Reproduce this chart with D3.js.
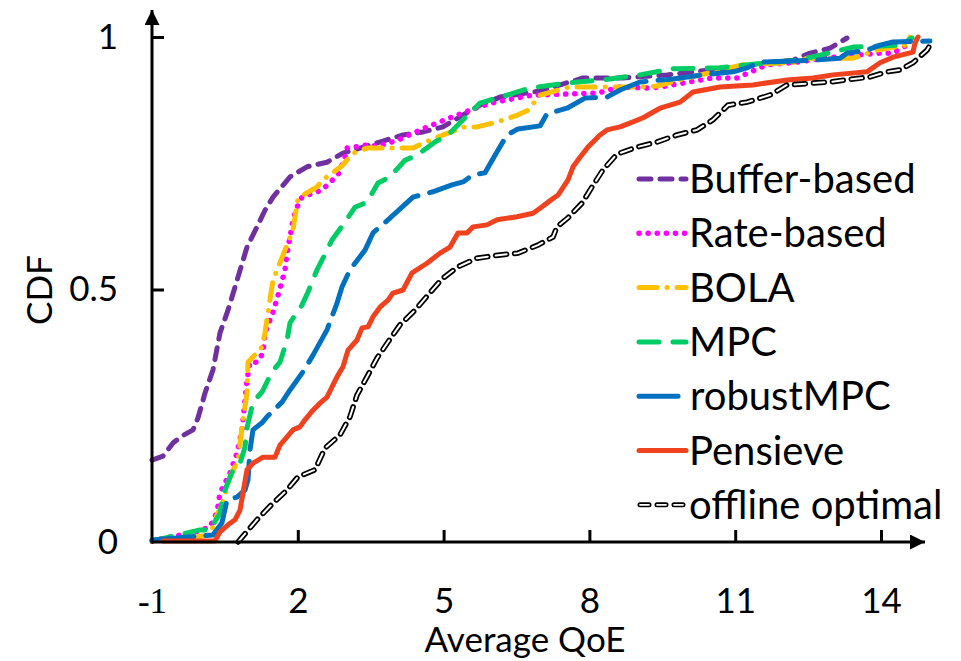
<!DOCTYPE html>
<html>
<head>
<meta charset="utf-8">
<script src="https://cdn.jsdelivr.net/npm/d3@7"></script>
<style>
  body { margin: 0; background: #fff; }
  svg { display: block; font-family: Lato, "Open Sans", sans-serif; }
</style>
</head>
<body>
<script>

var width = 961,
    height = 661;

// series names and styles
var names = ["Buffer-based", "Rate-based", "BOLA", "MPC", "robustMPC", "Pensieve", "offline optimal"];
var colors = ["#7030A0", "#FF00FF", "#FFC000", "#00CC66", "#0070C0", "#F0421E", "#000000"];

// CDF curves as [QoE, CDF]
var bufferBased = [[-1,0.162],[-0.774,0.170],[-0.568,0.196],[-0.383,0.210],[-0.156,0.222],[-0.053,0.246],[0.091,0.295],[0.255,0.341],[0.399,0.414],[0.564,0.459],[0.708,0.505],[0.955,0.584],[1.160,0.624],[1.325,0.657],[1.490,0.683],[1.840,0.723],[2.189,0.743],[2.601,0.752],[2.930,0.770],[3.280,0.780],[3.753,0.794],[4.165,0.806],[4.576,0.812],[4.988,0.822],[5.337,0.842],[5.749,0.865],[6.160,0.881],[6.984,0.893],[7.868,0.919],[8.691,0.919],[9.597,0.925],[10.893,0.939],[11.778,0.950],[12.189,0.954],[12.539,0.968],[12.951,0.978],[13.300,0.998]];
var rateBased = [[-1,0.002],[-0.630,0.010],[-0.156,0.018],[0.193,0.030],[0.337,0.059],[0.399,0.097],[0.605,0.137],[0.749,0.176],[0.852,0.222],[0.955,0.321],[1.016,0.356],[1.160,0.356],[1.284,0.374],[1.325,0.414],[1.490,0.455],[1.613,0.495],[1.737,0.539],[1.798,0.582],[1.901,0.638],[1.984,0.663],[2.086,0.683],[2.498,0.697],[2.827,0.727],[2.971,0.762],[3.012,0.780],[3.424,0.786],[3.650,0.784],[4.062,0.796],[4.617,0.820],[5.029,0.836],[5.646,0.859],[6.058,0.871],[6.840,0.885],[8.177,0.889],[8.630,0.901],[9.247,0.899],[9.453,0.901],[10.543,0.919],[11.037,0.919],[11.654,0.945],[12.189,0.949],[13.012,0.960],[13.979,0.968],[14.247,0.968],[14.535,0.984],[14.638,1.0]];
var bola = [[-1,0.002],[-0.218,0.008],[0.193,0.014],[0.337,0.053],[0.440,0.073],[0.605,0.129],[0.770,0.162],[0.872,0.242],[0.955,0.295],[0.975,0.356],[1.263,0.386],[1.325,0.414],[1.387,0.455],[1.490,0.519],[1.695,0.568],[1.901,0.618],[2.004,0.681],[2.395,0.703],[2.519,0.717],[2.909,0.745],[3.136,0.770],[3.424,0.780],[4.370,0.780],[4.576,0.790],[4.988,0.806],[5.440,0.822],[5.687,0.822],[6.119,0.832],[6.531,0.846],[6.737,0.855],[6.984,0.885],[7.601,0.901],[9.041,0.901],[9.391,0.903],[9.864,0.915],[11.160,0.945],[12.333,0.950],[12.477,0.958],[13.424,0.958],[13.918,0.974],[14.535,0.984],[14.597,1.0]];
var mpc = [[-1,0.002],[-0.630,0.010],[-0.012,0.024],[0.193,0.024],[0.399,0.057],[0.461,0.093],[0.667,0.143],[0.811,0.156],[0.914,0.188],[0.955,0.226],[1.078,0.277],[1.263,0.297],[1.469,0.337],[1.634,0.356],[1.778,0.400],[1.840,0.434],[2.086,0.469],[2.210,0.495],[2.395,0.539],[2.519,0.562],[2.704,0.598],[2.930,0.628],[3.177,0.663],[3.424,0.673],[3.650,0.711],[3.897,0.723],[4.206,0.756],[4.453,0.766],[4.823,0.792],[5.091,0.806],[5.440,0.840],[5.749,0.869],[6.305,0.885],[6.778,0.899],[7.539,0.909],[8.280,0.915],[9.041,0.925],[9.720,0.937],[10.687,0.939],[11.654,0.949],[12.272,0.954],[12.745,0.964],[13.424,0.980],[14.391,0.984],[14.638,0.998]];
var robustMpc = [[-1,0.004],[-0.486,0.008],[0.255,0.014],[0.440,0.038],[0.543,0.083],[0.749,0.089],[0.914,0.103],[0.975,0.123],[1.016,0.182],[1.078,0.222],[1.263,0.236],[1.366,0.248],[1.675,0.277],[1.840,0.301],[2.107,0.337],[2.313,0.370],[2.601,0.420],[2.807,0.473],[2.909,0.505],[3.074,0.539],[3.383,0.578],[3.547,0.612],[3.856,0.638],[4.144,0.663],[4.370,0.683],[4.761,0.693],[5.173,0.707],[5.399,0.713],[5.605,0.727],[5.852,0.731],[6.058,0.766],[6.305,0.806],[6.531,0.818],[6.984,0.824],[7.128,0.848],[7.539,0.859],[7.909,0.879],[8.362,0.881],[8.630,0.895],[9.041,0.911],[9.720,0.917],[10.337,0.925],[10.955,0.931],[11.243,0.939],[11.510,0.950],[12.601,0.954],[13.156,0.958],[13.300,0.968],[13.712,0.974],[13.979,0.984],[14.247,0.990],[15.008,0.992]];
var pensieve = [[-0.774,0.002],[0.296,0.002],[0.399,0.020],[0.564,0.034],[0.708,0.044],[0.811,0.063],[0.872,0.097],[0.955,0.143],[1.078,0.156],[1.284,0.168],[1.531,0.168],[1.634,0.192],[1.778,0.208],[1.901,0.222],[2.045,0.228],[2.148,0.242],[2.313,0.261],[2.457,0.275],[2.601,0.287],[2.704,0.307],[2.807,0.327],[2.930,0.347],[3.033,0.380],[3.218,0.400],[3.321,0.424],[3.444,0.426],[3.547,0.446],[3.691,0.465],[3.856,0.479],[3.959,0.493],[4.165,0.499],[4.350,0.533],[4.658,0.552],[4.926,0.572],[5.132,0.584],[5.296,0.612],[5.481,0.612],[5.605,0.624],[5.893,0.628],[6.099,0.638],[6.510,0.644],[6.840,0.651],[6.984,0.661],[7.148,0.673],[7.354,0.687],[7.560,0.717],[7.663,0.743],[7.807,0.762],[7.971,0.782],[8.218,0.806],[8.362,0.816],[8.630,0.822],[8.897,0.832],[9.103,0.840],[9.453,0.859],[9.864,0.871],[10.132,0.891],[10.687,0.901],[11.366,0.905],[12.066,0.915],[12.601,0.919],[13.012,0.925],[13.712,0.931],[13.979,0.949],[14.247,0.960],[14.658,0.970],[14.700,0.988],[14.761,1.0]];
var offlineOptimal = [[0.770,0.0],[1.160,0.044],[1.490,0.077],[1.778,0.103],[2.004,0.129],[2.354,0.143],[2.560,0.186],[2.868,0.212],[3.074,0.248],[3.218,0.291],[3.424,0.327],[3.630,0.364],[3.856,0.396],[4.103,0.430],[4.412,0.459],[4.679,0.489],[4.967,0.521],[5.296,0.545],[5.687,0.562],[6.119,0.568],[6.531,0.572],[6.942,0.588],[7.251,0.604],[7.333,0.624],[7.560,0.642],[7.848,0.671],[8.053,0.703],[8.280,0.737],[8.568,0.768],[8.979,0.782],[9.391,0.792],[9.802,0.806],[10.214,0.816],[10.543,0.836],[10.852,0.865],[11.243,0.871],[11.716,0.885],[12.066,0.905],[12.951,0.911],[13.774,0.921],[14.123,0.931],[14.391,0.935],[14.658,0.949],[14.947,0.974],[15.008,0.984]];

var xTicks = [-1, 2, 5, 8, 11, 14];
var yTicks = [0, 0.5, 1];
var yTickLabels = ["0", "0.5", "1"];

var seriesData = [bufferBased, rateBased, bola, mpc, robustMpc, pensieve, offlineOptimal];
var dashes = ["12,9", "0.1,9", "18,10,0.1,10", "20,14", "42,12", null, "11,8"];

var x = d3.scaleLinear().domain([-1, 14]).range([152, 881]);
var y = d3.scaleLinear().domain([0, 1]).range([542, 37]);

var svg = d3.select("body").append("svg")
    .attr("width", width)
    .attr("height", height);

var defs = svg.append("defs");
defs.append("marker")
    .attr("id", "arrow")
    .attr("viewBox", "0 0 10 10")
    .attr("refX", 10).attr("refY", 5)
    .attr("markerWidth", 5).attr("markerHeight", 5)
    .attr("markerUnits", "strokeWidth")
    .attr("orient", "auto")
  .append("path")
    .attr("d", "M0,0L10,5L0,10z")
    .attr("fill", "#000");

var line = d3.line()
    .x(function(d) { return x(d[0]); })
    .y(function(d) { return y(d[1]); });

// curves
var curves = svg.append("g");
seriesData.forEach(function(data, i) {
    if (i == 6) {
        // outlined dashes: black stroke with white core
        curves.append("path").attr("d", line(data))
            .attr("fill", "none").attr("stroke", "#000").attr("stroke-width", 5.5)
            .attr("stroke-dasharray", dashes[i]).attr("stroke-linecap", "round");
        curves.append("path").attr("d", line(data))
            .attr("fill", "none").attr("stroke", "#fff").attr("stroke-width", 2)
            .attr("stroke-dasharray", dashes[i]).attr("stroke-linecap", "round");
        return;
    }
    curves.append("path").attr("d", line(data))
        .attr("fill", "none")
        .attr("stroke", colors[i])
        .attr("stroke-width", i == 1 ? 5.5 : 5)
        .attr("stroke-linejoin", "round")
        .attr("stroke-linecap", "round")
        .attr("stroke-dasharray", dashes[i]);
});

// axes
var xAxis = svg.append("g")
    .attr("transform", "translate(0," + y(0) + ")")
    .call(d3.axisBottom(x).tickValues(xTicks).tickSize(-12).tickPadding(46).tickFormat(d3.format("d")));
xAxis.select(".domain").remove();
xAxis.selectAll(".tick line").attr("stroke-width", 3);
xAxis.selectAll(".tick text")
    .attr("font-size", 35)
    .attr("font-family", function(d) { return d == -1 ? "Liberation Serif" : "Lato"; })
    .text(function(d) { return d < 0 ? "-1" : d; });
xAxis.selectAll(".tick").filter(function(d) { return d == -1; }).select("line").remove();

var yAxis = svg.append("g")
    .attr("transform", "translate(" + x(-1) + ",0)")
    .call(d3.axisLeft(y).tickValues(yTicks).tickSize(-12).tickPadding(34)
        .tickFormat(function(d, i) { return yTickLabels[i]; }));
yAxis.select(".domain").remove();
yAxis.selectAll(".tick line").attr("stroke-width", 3);
yAxis.selectAll(".tick").filter(function(d) { return d == 0; }).select("line").remove();
yAxis.selectAll(".tick text").attr("font-size", 35).attr("font-family", "Lato");

svg.append("line")
    .attr("x1", x(-1)).attr("y1", y(0)).attr("x2", 925).attr("y2", y(0))
    .attr("stroke", "#000").attr("stroke-width", 3).attr("marker-end", "url(#arrow)");
svg.append("line")
    .attr("x1", x(-1)).attr("y1", y(0) + 1.5).attr("x2", x(-1)).attr("y2", 10)
    .attr("stroke", "#000").attr("stroke-width", 3).attr("marker-end", "url(#arrow)");

// axis titles
svg.append("text")
    .attr("x", 525).attr("y", 652)
    .attr("text-anchor", "middle")
    .attr("font-size", 35)
    .text("Average QoE");
svg.append("text")
    .attr("transform", "translate(52,290) rotate(-90)")
    .attr("text-anchor", "middle")
    .attr("font-size", 35)
    .text("CDF");

// legend
var legend = svg.append("g");
names.forEach(function(name, i) {
    var ly = 179 + i * 54.3;
    var x2 = i == 4 ? 678 : 686;
    if (i == 6) {
        legend.append("line").attr("x1", 640).attr("x2", 684).attr("y1", ly).attr("y2", ly)
            .attr("stroke", "#000").attr("stroke-width", 5).attr("stroke-linecap", "round")
            .attr("stroke-dasharray", "9,8");
        legend.append("line").attr("x1", 640).attr("x2", 684).attr("y1", ly).attr("y2", ly)
            .attr("stroke", "#fff").attr("stroke-width", 1.8).attr("stroke-linecap", "round")
            .attr("stroke-dasharray", "9,8");
    } else {
        legend.append("line")
            .attr("x1", 639).attr("x2", x2).attr("y1", ly).attr("y2", ly)
            .attr("stroke", colors[i])
            .attr("stroke-width", i == 1 ? 5.5 : 5)
            .attr("stroke-linecap", "round")
            .attr("stroke-dasharray", dashes[i]);
    }
    legend.append("text")
        .attr("x", i == 4 ? 690 : 689).attr("y", ly + 14)
        .attr("font-size", 40)
        .text(name);
});

</script>
</body>
</html>
